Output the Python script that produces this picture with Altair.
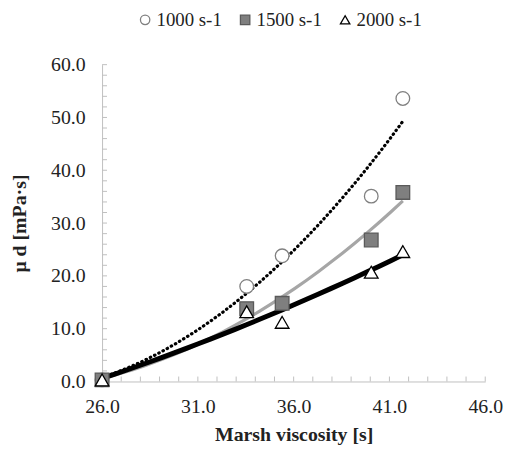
import altair as alt
import pandas as pd

series = ["1000 s-1", "1500 s-1", "2000 s-1"]
marsh = [26.0, 33.55, 35.4, 40.05, 41.7]
mu_1000 = [0.3, 18.0, 23.8, 35.1, 53.6]
mu_1500 = [0.3, 13.8, 14.8, 26.8, 35.8]
mu_2000 = [0.3, 13.2, 11.2, 20.7, 24.6]

x_ticks = [26.0, 31.0, 36.0, 41.0, 46.0]
y_ticks = [0.0, 10.0, 20.0, 30.0, 40.0, 50.0, 60.0]
x_minor = [26 + i for i in range(21)]
y_minor = [2 * i for i in range(31)]

rows = []
for s, vals in zip(series, [mu_1000, mu_1500, mu_2000]):
    for xv, yv in zip(marsh, vals):
        rows.append({"series": s, "x": xv, "y": yv})
df = pd.DataFrame(rows)

FONT = "Liberation Serif"
W, H = 387, 320

xscale = alt.Scale(domain=[26, 46], nice=False, zero=False)
yscale = alt.Scale(domain=[0, 60], nice=False)

xaxis = alt.Axis(values=x_ticks, format=".1f", ticks=False, grid=False,
                 domainColor="#bfbfbf", labelFont=FONT, labelFontSize=20,
                 labelColor="#222", labelPadding=15, labelFlush=False,
                 title="Marsh viscosity [s]",
                 titleFont=FONT, titleFontSize=20, titleFontWeight="bold",
                 titleColor="#222", titlePadding=9)
yaxis = alt.Axis(values=y_ticks, format=".1f", ticks=False, grid=False,
                 domainColor="#bfbfbf", labelFont=FONT, labelFontSize=20,
                 labelColor="#222", labelPadding=17, labelFlush=False,
                 title="μ d [mPa·s]",
                 titleFont=FONT, titleFontSize=20, titleFontWeight="bold",
                 titleColor="#222", titlePadding=21)

X = alt.X("x:Q", scale=xscale, axis=xaxis)
Y = alt.Y("y:Q", scale=yscale, axis=yaxis)

base = alt.Chart(df)

def trend(s, color, width, dash=None, cap="butt"):
    kw = dict(color=color, strokeWidth=width, strokeCap=cap, clip=False)
    if dash:
        kw["strokeDash"] = dash
    return base.transform_filter(alt.datum.series == s).transform_regression(
        "x", "y", method="poly", order=2, extent=[26.0, 41.7]
    ).mark_line(**kw).encode(x=X, y=Y)

l1 = trend("1000 s-1", "#000000", 3.2, [0.5, 4.3], "round")
l2 = trend("1500 s-1", "#a6a6a6", 3.2)
l3 = trend("2000 s-1", "#000000", 5)

leg = alt.Legend(title=None, orient="none", legendX=34, legendY=-55,
                 direction="horizontal", columns=3)

points = base.mark_point(size=190, filled=False, opacity=1).encode(
    x=X, y=Y,
    shape=alt.Shape("series:N", scale=alt.Scale(domain=series, range=["circle", "square", "triangle-up"]), legend=leg),
    fill=alt.Fill("series:N", scale=alt.Scale(domain=series, range=["white", "#7f7f7f", "white"]), legend=leg),
    stroke=alt.Stroke("series:N", scale=alt.Scale(domain=series, range=["#808080", "#5a5a5a", "#000000"]), legend=leg),
    strokeWidth=alt.StrokeWidth("series:N", scale=alt.Scale(domain=series, range=[1.3, 1.3, 2.2]), legend=leg),
    order=alt.Order("series:N"),
)

xt = alt.Chart(pd.DataFrame({"x": x_minor})).mark_rule(color="#bfbfbf", strokeWidth=1).encode(
    x=X, y=alt.value(H), y2=alt.value(H - 5))
yt = alt.Chart(pd.DataFrame({"y": y_minor})).mark_rule(color="#bfbfbf", strokeWidth=1).encode(
    y=Y, x=alt.value(0), x2=alt.value(5))

chart = alt.layer(xt, yt, l1, l2, l3, points).properties(
    width=W, height=H,
    autosize=alt.AutoSizeParams(type="pad"),
    padding={"left": 2, "top": 0, "right": 5, "bottom": 5},
    background="white",
).configure_view(stroke=None).configure_legend(
    labelFont=FONT, labelFontSize=19, labelColor="#222", symbolSize=90,
    columnPadding=14, labelOffset=2, padding=0,
)

chart.save("out.html", embed_options={"renderer": "svg", "actions": False})
